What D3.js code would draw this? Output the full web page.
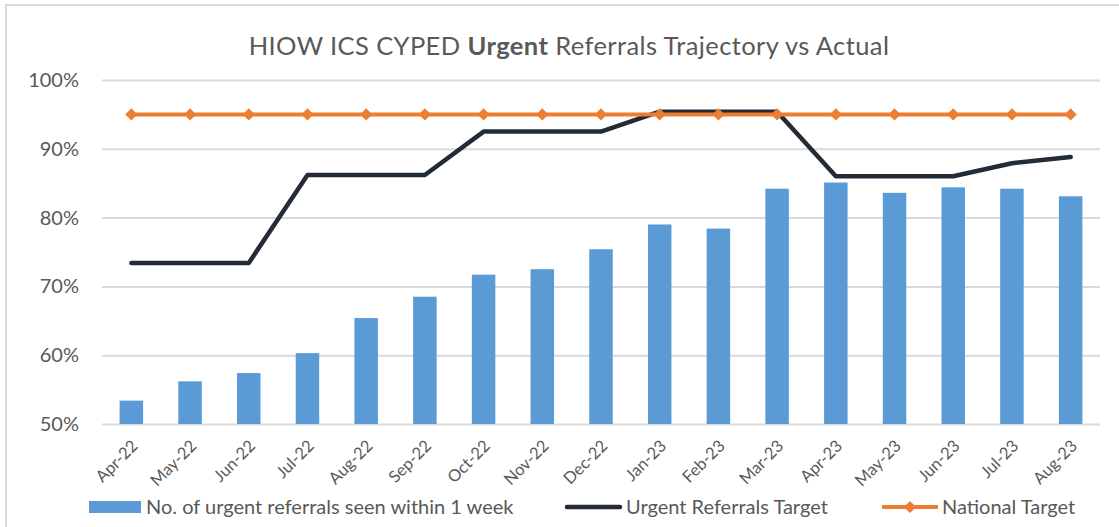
<!DOCTYPE html>
<html>
  <head>
    <meta charset="utf-8">
    <title>HIOW ICS CYPED Urgent Referrals Trajectory vs Actual</title>
    <script src="https://d3js.org/d3.v7.min.js"></script>
    <style>
      body { margin: 0; background: #fff; }
      text { font-family: Lato, "Liberation Sans", sans-serif; fill: #595959; }
    </style>
  </head>
  <body>
    <div id="chart"></div>
    <script>
      // Months on the x axis
      var months = ["Apr-22", "May-22", "Jun-22", "Jul-22", "Aug-22", "Sep-22", "Oct-22", "Nov-22",
                    "Dec-22", "Jan-23", "Feb-23", "Mar-23", "Apr-23", "May-23", "Jun-23", "Jul-23", "Aug-23"];

      // Bars: % of urgent referrals seen within 1 week
      var seenWithinWeek = [53.4, 56.2, 57.4, 60.3, 65.4, 68.5, 71.7, 72.5,
                            75.4, 79.0, 78.4, 84.2, 85.1, 83.6, 84.4, 84.2, 83.1];

      // Black line: local trajectory
      var urgentTarget = [73.4, 73.4, 73.4, 86.2, 86.2, 86.2, 92.5, 92.5,
                          92.5, 95.4, 95.4, 95.4, 86.0, 86.0, 86.0, 87.9, 88.8];

      // Orange line: national target
      var nationalTarget = [95, 95, 95, 95, 95, 95, 95, 95,
                            95, 95, 95, 95, 95, 95, 95, 95, 95];

      var yTicks = [50, 60, 70, 80, 90, 100];

      var W = 1119, H = 527;
      var margin = { top: 80, right: 19, bottom: 103, left: 102 };
      var width = W - margin.left - margin.right,
          height = H - margin.top - margin.bottom;

      var svg = d3.select("#chart").append("svg")
                  .attr("width", W)
                  .attr("height", H);

      // chart area border (only top/left visible in the crop)
      svg.append("rect")
         .attr("x", 6).attr("y", 5)
         .attr("width", 1200).attr("height", 600)
         .attr("fill", "none")
         .attr("stroke", "#d9d9d9")
         .attr("stroke-width", 2);

      // Title
      var title = svg.append("text")
         .attr("x", 569).attr("y", 55)
         .attr("text-anchor", "middle")
         .style("font-size", "25.5px")
         .style("letter-spacing", "0.4px");
      title.append("tspan").text("HIOW ICS CYPED ");
      title.append("tspan").style("font-weight", "bold").text("Urgent");
      title.append("tspan").text(" Referrals Trajectory vs Actual");

      var g = svg.append("g")
                 .attr("transform", "translate(" + margin.left + "," + margin.top + ")");

      var x = d3.scaleBand().domain(months).range([0, width]).paddingInner(0.6).paddingOuter(0.3);
      var xc = d3.scalePoint().domain(months).range([0, width]).padding(0.5);
      var y = d3.scaleLinear().domain([50, 100]).range([height, 0]);

      // gridlines + y labels
      var yAxis = g.append("g")
         .call(d3.axisLeft(y).tickValues(yTicks).tickSize(-width).tickPadding(23)
                 .tickFormat(function(d) { return d + "%"; }));
      yAxis.select(".domain").remove();
      yAxis.selectAll(".tick line").attr("stroke", "#d9d9d9").attr("stroke-width", 2);
      yAxis.selectAll(".tick text").style("font-size", "20px").attr("fill", "#595959");

      // x labels
      var xAxis = g.append("g")
         .attr("transform", "translate(0," + height + ")")
         .call(d3.axisBottom(xc).tickSize(0).tickPadding(0));
      xAxis.select(".domain").remove();
      xAxis.selectAll(".tick text")
           .style("font-size", "16.5px")
           .attr("fill", "#595959")
           .attr("text-anchor", "end")
           .attr("dy", 0)
           .attr("y", 0)
           .attr("transform", "translate(7,23) rotate(-45)");

      // Bars
      g.selectAll(".bar")
       .data(seenWithinWeek)
       .enter().append("rect")
       .attr("class", "bar")
       .attr("x", function(d, i) { return x(months[i]); })
       .attr("width", x.bandwidth())
       .attr("y", function(d) { return y(d); })
       .attr("height", function(d) { return height - y(d); })
       .attr("fill", "#5b9bd5");

      var line = d3.line()
                   .x(function(d, i) { return xc(months[i]); })
                   .y(function(d) { return y(d); });

      g.append("path")
       .datum(urgentTarget)
       .attr("d", line)
       .attr("fill", "none")
       .attr("stroke", "#232b36")
       .attr("stroke-width", 4.5)
       .attr("stroke-linecap", "round")
       .attr("stroke-linejoin", "round");

      g.append("path")
       .datum(nationalTarget)
       .attr("d", line)
       .attr("fill", "none")
       .attr("stroke", "#ed7d31")
       .attr("stroke-width", 4);

      var diamond = d3.symbol().type(d3.symbolDiamond2).size(95);
      g.selectAll(".marker")
       .data(nationalTarget)
       .enter().append("path")
       .attr("class", "marker")
       .attr("d", diamond)
       .attr("transform", function(d, i) { return "translate(" + xc(months[i]) + "," + y(d) + ")"; })
       .attr("fill", "#ed7d31");

      // Legend
      var leg = svg.append("g").attr("transform", "translate(0,507)");
      leg.append("rect").attr("x", 89).attr("y", -6).attr("width", 52).attr("height", 12).attr("fill", "#5b9bd5");
      leg.append("text").attr("x", 146).attr("y", 0).attr("dy", "0.35em").style("font-size", "20px")
         .text("No. of urgent referrals seen within 1 week");

      leg.append("line").attr("x1", 567).attr("x2", 620).attr("y1", 0).attr("y2", 0)
         .attr("stroke", "#232b36").attr("stroke-width", 4.5).attr("stroke-linecap", "round");
      leg.append("text").attr("x", 626).attr("y", 0).attr("dy", "0.35em").style("font-size", "20px")
         .text("Urgent Referrals Target");

      leg.append("line").attr("x1", 882).attr("x2", 938).attr("y1", 0).attr("y2", 0)
         .attr("stroke", "#ed7d31").attr("stroke-width", 4);
      leg.append("path").attr("d", diamond).attr("transform", "translate(910,0)").attr("fill", "#ed7d31");
      leg.append("text").attr("x", 942).attr("y", 0).attr("dy", "0.35em").style("font-size", "20px")
         .text("National Target");
    </script>
  </body>
</html>
